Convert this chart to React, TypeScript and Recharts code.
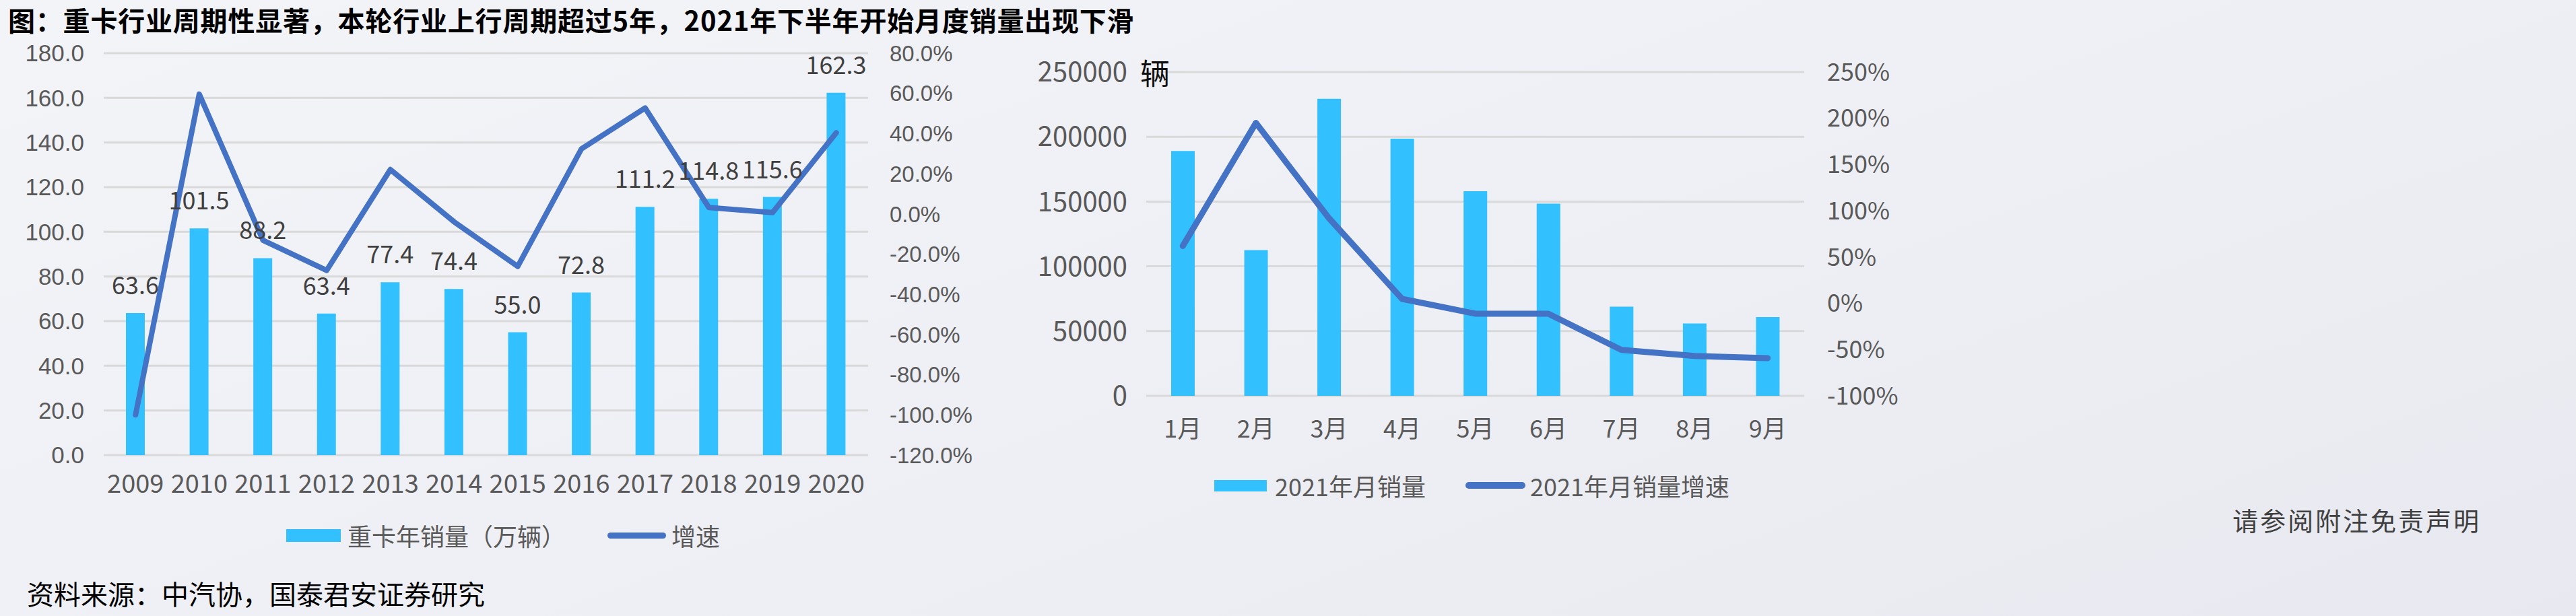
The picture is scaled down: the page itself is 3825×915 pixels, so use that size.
import React from "react";
import {
  Bar,
  CartesianGrid,
  ComposedChart,
  LabelList,
  Legend,
  Line,
  XAxis,
  YAxis,
} from "recharts";

// annual heavy truck sales (万辆) and yoy growth (%)
const years = ["2009", "2010", "2011", "2012", "2013", "2014", "2015", "2016", "2017", "2018", "2019", "2020"];
const annualSales = [63.6, 101.5, 88.2, 63.4, 77.4, 74.4, 55.0, 72.8, 111.2, 114.8, 115.6, 162.3];
const annualGrowth = [-100.0, 59.6, -13.1, -28.1, 22.1, -3.9, -26.1, 32.4, 52.7, 3.2, 0.7, 40.4];
const annualSalesTicks = [0, 20, 40, 60, 80, 100, 120, 140, 160, 180];
const annualGrowthTicks = [-120, -100, -80, -60, -40, -20, 0, 20, 40, 60, 80];

// 2021 monthly sales (辆) and yoy growth (%)
const months = ["1月", "2月", "3月", "4月", "5月", "6月", "7月", "8月", "9月"];
const monthlySales = [189000, 112500, 229400, 198500, 158000, 148400, 68900, 55900, 60800];
const monthlyGrowth = [62, 195, 92, 4.8, -11.2, -11.2, -50.4, -56.9, -59.2];
const monthlySalesTicks = [0, 50000, 100000, 150000, 200000, 250000];
const monthlyGrowthTicks = [-100, -50, 0, 50, 100, 150, 200, 250];

const FONT = '"Noto Sans CJK SC", "Noto Sans", sans-serif';
const NUM_FONT = '"Liberation Sans", Arial, sans-serif';
const BAR = "#33C0FF";
const LINE = "#4472C4";
const GRID = "#D9D9D9";
const TICK = "#595959";

const annualData = years.map((year, i) => ({
  year,
  sales: annualSales[i],
  growth: annualGrowth[i],
}));

const monthlyData = months.map((month, i) => ({
  month,
  sales: monthlySales[i],
  growth: monthlyGrowth[i],
}));

function LegendRow({
  items,
}: {
  items: { kind: "bar" | "line"; label: string; icon: number; iconW: number; iconH: number; text: number }[];
}) {
  return (
    <div style={{ position: "relative", height: 40, fontFamily: FONT }}>
      {items.map((it) => (
        <React.Fragment key={it.label}>
          <div
            style={{
              position: "absolute",
              left: it.icon,
              top: 20 - it.iconH / 2,
              width: it.iconW,
              height: it.iconH,
              background: it.kind === "bar" ? BAR : LINE,
              borderRadius: it.kind === "line" ? it.iconH / 2 : 0,
            }}
          />
          <div
            style={{
              position: "absolute",
              left: it.text,
              top: 0,
              lineHeight: "40px",
              fontSize: 36,
              color: TICK,
              whiteSpace: "nowrap",
            }}
          >
            {it.label}
          </div>
        </React.Fragment>
      ))}
    </div>
  );
}

function AnnualChart() {
  return (
    <ComposedChart
      width={1480}
      height={915}
      data={annualData}
      margin={{ top: 79, right: 0, bottom: 179, left: 0 }}
    >
      <CartesianGrid yAxisId="left" vertical={false} stroke={GRID} strokeWidth={3} />
      <XAxis
        dataKey="year"
        height={60}
        axisLine={false}
        tickLine={false}
        tickMargin={23}
        interval={0}
        tick={{ fill: TICK, fontSize: 38 }}
      />
      <YAxis
        yAxisId="left"
        width={154}
        domain={[0, 180]}
        ticks={annualSalesTicks}
        interval={0}
        axisLine={false}
        tickLine={false}
        tickMargin={23}
        tick={{ fill: TICK, fontSize: 35, fontFamily: NUM_FONT }}
        tickFormatter={(v: number) => v.toFixed(1)}
      />
      <YAxis
        yAxisId="right"
        orientation="right"
        width={191}
        domain={[-120, 80]}
        ticks={annualGrowthTicks}
        interval={0}
        axisLine={false}
        tickLine={false}
        tickMargin={26}
        tick={{ fill: TICK, fontSize: 33, fontFamily: NUM_FONT }}
        tickFormatter={(v: number) => `${v.toFixed(1)}%`}
      />
      <Legend
        verticalAlign="middle"
        align="center"
        wrapperStyle={{ left: 0, top: 775, width: 1400, height: 40 }}
        content={() => (
          <LegendRow
            items={[
              { kind: "bar", label: "重卡年销量（万辆）", icon: 425, iconW: 81, iconH: 19, text: 516 },
              { kind: "line", label: "增速", icon: 902, iconW: 87, iconH: 9, text: 997 },
            ]}
          />
        )}
      />
      <Bar yAxisId="left" dataKey="sales" fill={BAR} barSize={28} isAnimationActive={false}>
        <LabelList
          dataKey="sales"
          position="top"
          offset={28}
          fill="#404040"
          fontSize={36}
          formatter={(v: any) => Number(v).toFixed(1)}
        />
      </Bar>
      <Line
        yAxisId="right"
        dataKey="growth"
        type="linear"
        stroke={LINE}
        strokeWidth={8}
        strokeLinejoin="round"
        strokeLinecap="round"
        dot={false}
        activeDot={false}
        isAnimationActive={false}
      />
    </ComposedChart>
  );
}

function MonthlyChart() {
  return (
    <ComposedChart
      width={1400}
      height={915}
      data={monthlyData}
      margin={{ top: 107, right: 0, bottom: 267, left: 0 }}
    >
      <CartesianGrid yAxisId="left" vertical={false} stroke={GRID} strokeWidth={3} />
      <XAxis
        dataKey="month"
        height={60}
        axisLine={false}
        tickLine={false}
        tickMargin={30}
        interval={0}
        tick={{ fill: TICK, fontSize: 36 }}
      />
      <YAxis
        yAxisId="left"
        width={202}
        domain={[0, 250000]}
        ticks={monthlySalesTicks}
        interval={0}
        axisLine={false}
        tickLine={false}
        tickMargin={22}
        tick={{ fill: TICK, fontSize: 40 }}
        label={{
          position: "insideTopRight",
          content: (p: any) => {
            const vb = p.viewBox || { x: 0, y: 107, width: 202 };
            return (
              <text
                x={vb.x + vb.width + 13}
                y={vb.y + 19}
                textAnchor="middle"
                fontSize={44}
                fill="#111"
                fontFamily={FONT}
              >
                辆
              </text>
            );
          },
        }}
      />
      <YAxis
        yAxisId="right"
        orientation="right"
        width={221}
        domain={[-100, 250]}
        ticks={monthlyGrowthTicks}
        interval={0}
        axisLine={false}
        tickLine={false}
        tickMargin={28}
        tick={{ fill: TICK, fontSize: 36 }}
        tickFormatter={(v: number) => `${v}%`}
      />
      <Legend
        verticalAlign="middle"
        align="center"
        wrapperStyle={{ left: 0, top: 701, width: 1300, height: 40 }}
        content={() => (
          <LegendRow
            items={[
              { kind: "bar", label: "2021年月销量", icon: 303, iconW: 78, iconH: 17, text: 393 },
              { kind: "line", label: "2021年月销量增速", icon: 676, iconW: 89, iconH: 10, text: 772 },
            ]}
          />
        )}
      />
      <Bar yAxisId="left" dataKey="sales" fill={BAR} barSize={35} isAnimationActive={false} />
      <Line
        yAxisId="right"
        dataKey="growth"
        type="linear"
        stroke={LINE}
        strokeWidth={9}
        strokeLinejoin="round"
        strokeLinecap="round"
        dot={false}
        activeDot={false}
        isAnimationActive={false}
      />
    </ComposedChart>
  );
}

export default function App() {
  return (
    <div
      style={{
        position: "absolute",
        left: 0,
        top: 0,
        width: 3825,
        height: 915,
        overflow: "hidden",
        fontFamily: FONT,
        background: "linear-gradient(160deg, #f3f4f8 0%, #eeeff4 55%, #e8e9f0 100%)",
      }}
    >
      <div
        style={{
          position: "absolute",
          left: 12,
          top: 6,
          fontSize: 40,
          lineHeight: "46px",
          letterSpacing: 0.8,
          fontWeight: 700,
          color: "#000",
          whiteSpace: "nowrap",
        }}
      >
        图：重卡行业周期性显著，本轮行业上行周期超过5年，2021年下半年开始月度销量出现下滑
      </div>

      <div style={{ position: "absolute", left: 0, top: 0 }}>
        <AnnualChart />
      </div>
      <div style={{ position: "absolute", left: 1500, top: 0 }}>
        <MonthlyChart />
      </div>

      <div
        style={{
          position: "absolute",
          left: 40,
          top: 861,
          fontSize: 40,
          lineHeight: "40px",
          color: "#000",
          whiteSpace: "nowrap",
        }}
      >
        资料来源：中汽协，国泰君安证券研究
      </div>
      <div
        style={{
          position: "absolute",
          left: 3315,
          top: 753,
          fontSize: 38,
          lineHeight: "38px",
          letterSpacing: 3,
          color: "#404040",
          whiteSpace: "nowrap",
        }}
      >
        请参阅附注免责声明
      </div>
    </div>
  );
}
